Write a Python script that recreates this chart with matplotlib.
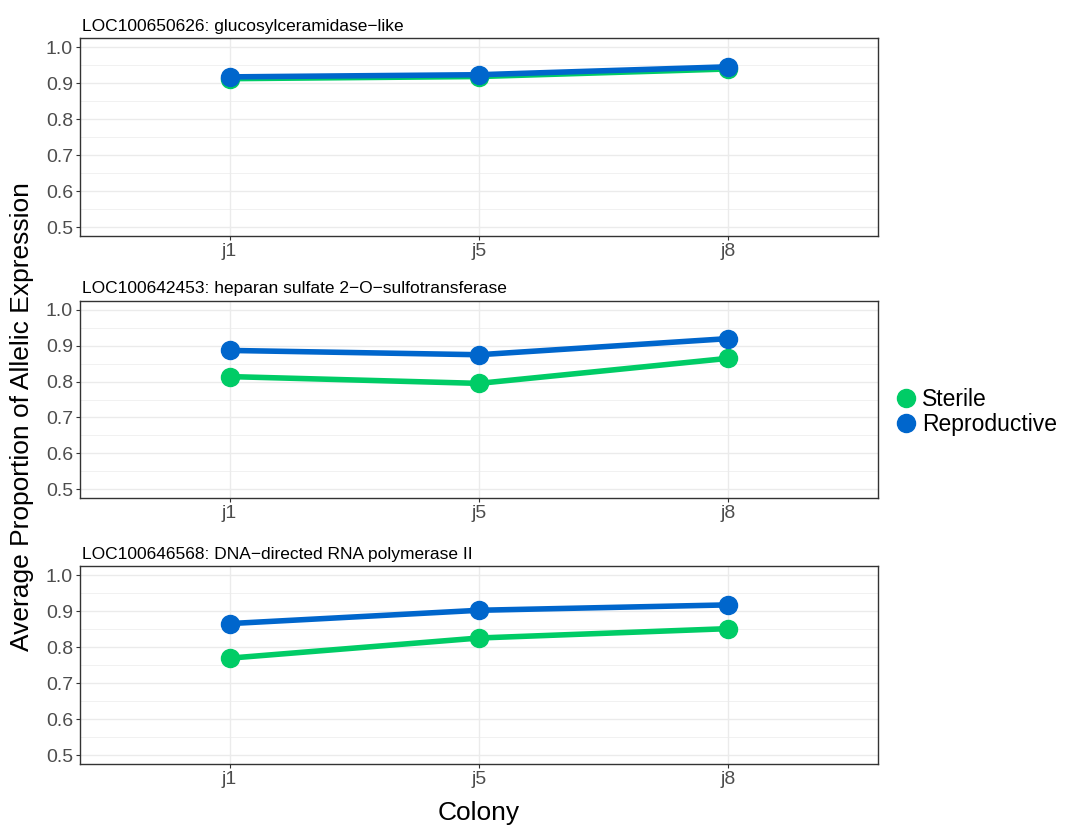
import numpy as np
import matplotlib
matplotlib.use('Agg')
import matplotlib.pyplot as plt
from matplotlib.lines import Line2D

plt.rcParams['font.family'] = ['Liberation Sans', 'DejaVu Sans']

colonies = ['j1', 'j5', 'j8']
titles = ['LOC100650626: glucosylceramidase\u2212like',
          'LOC100642453: heparan sulfate 2\u2212O\u2212sulfotransferase',
          'LOC100646568: DNA\u2212directed RNA polymerase II']
sterile = [[0.912, 0.918, 0.939],
           [0.814, 0.795, 0.865],
           [0.769, 0.825, 0.851]]
reproductive = [[0.917, 0.923, 0.945],
                [0.887, 0.875, 0.920],
                [0.865, 0.902, 0.917]]
col_sterile = '#00CC66'
col_repro = '#0066CC'

W, H = 1068, 833
fig = plt.figure(figsize=(W / 100, H / 100), dpi=100)

panel_px = [(38, 236), (301, 498), (566, 764)]  # top, bottom in pixels
left_px, right_px = 80, 878
x = np.arange(1, 4)

for i, (top, bot) in enumerate(panel_px):
    ax = fig.add_axes([left_px / W, (H - bot) / H, (right_px - left_px) / W, (bot - top) / H])
    ax.set_xlim(0.4, 3.6)
    ax.set_ylim(0.475, 1.025)
    ax.set_yticks(np.arange(0.5, 1.01, 0.1))
    ax.set_yticks(np.arange(0.55, 1.0, 0.1), minor=True)
    ax.set_xticks(x)
    ax.set_xticklabels(colonies)
    ax.set_yticklabels(['%.1f' % v for v in np.arange(0.5, 1.01, 0.1)])
    ax.grid(which='major', color='#EBEBEB', lw=1.0, zorder=0)
    ax.grid(which='minor', axis='y', color='#EBEBEB', lw=0.5, zorder=0)
    ax.tick_params(which='major', length=3, color='#333333', labelsize=14, labelcolor='#4D4D4D', pad=2)
    ax.tick_params(which='minor', length=0)
    for s in ax.spines.values():
        s.set_color('#333333')
        s.set_linewidth(1.0)
    ax.plot(x, sterile[i], '-o', color=col_sterile, lw=4, ms=13, zorder=3)
    ax.plot(x, reproductive[i], '-o', color=col_repro, lw=4, ms=13, zorder=4)
    ax.set_axisbelow(True)
    fig.text(82 / W, 1 - (top - 12) / H, titles[i], fontsize=12.5, ha='left', va='center', color='black')

fig.text(479 / W, 1 - 813 / H, 'Colony', fontsize=19, ha='center', va='center')
fig.text(22 / W, 1 - 417 / H, 'Average Proportion of Allelic Expression', fontsize=19,
         rotation=90, ha='center', va='center')

handles = [Line2D([], [], marker='o', ls='none', color=col_sterile, ms=13),
           Line2D([], [], marker='o', ls='none', color=col_repro, ms=13)]
fig.legend(handles, ['Sterile', 'Reproductive'], loc='center left',
           bbox_to_anchor=(883 / W, 1 - 412 / H), frameon=False, fontsize=16.5,
           handletextpad=0.1, labelspacing=0.05, handlelength=1.2, borderaxespad=0)

fig.savefig('out.png', dpi=100)
